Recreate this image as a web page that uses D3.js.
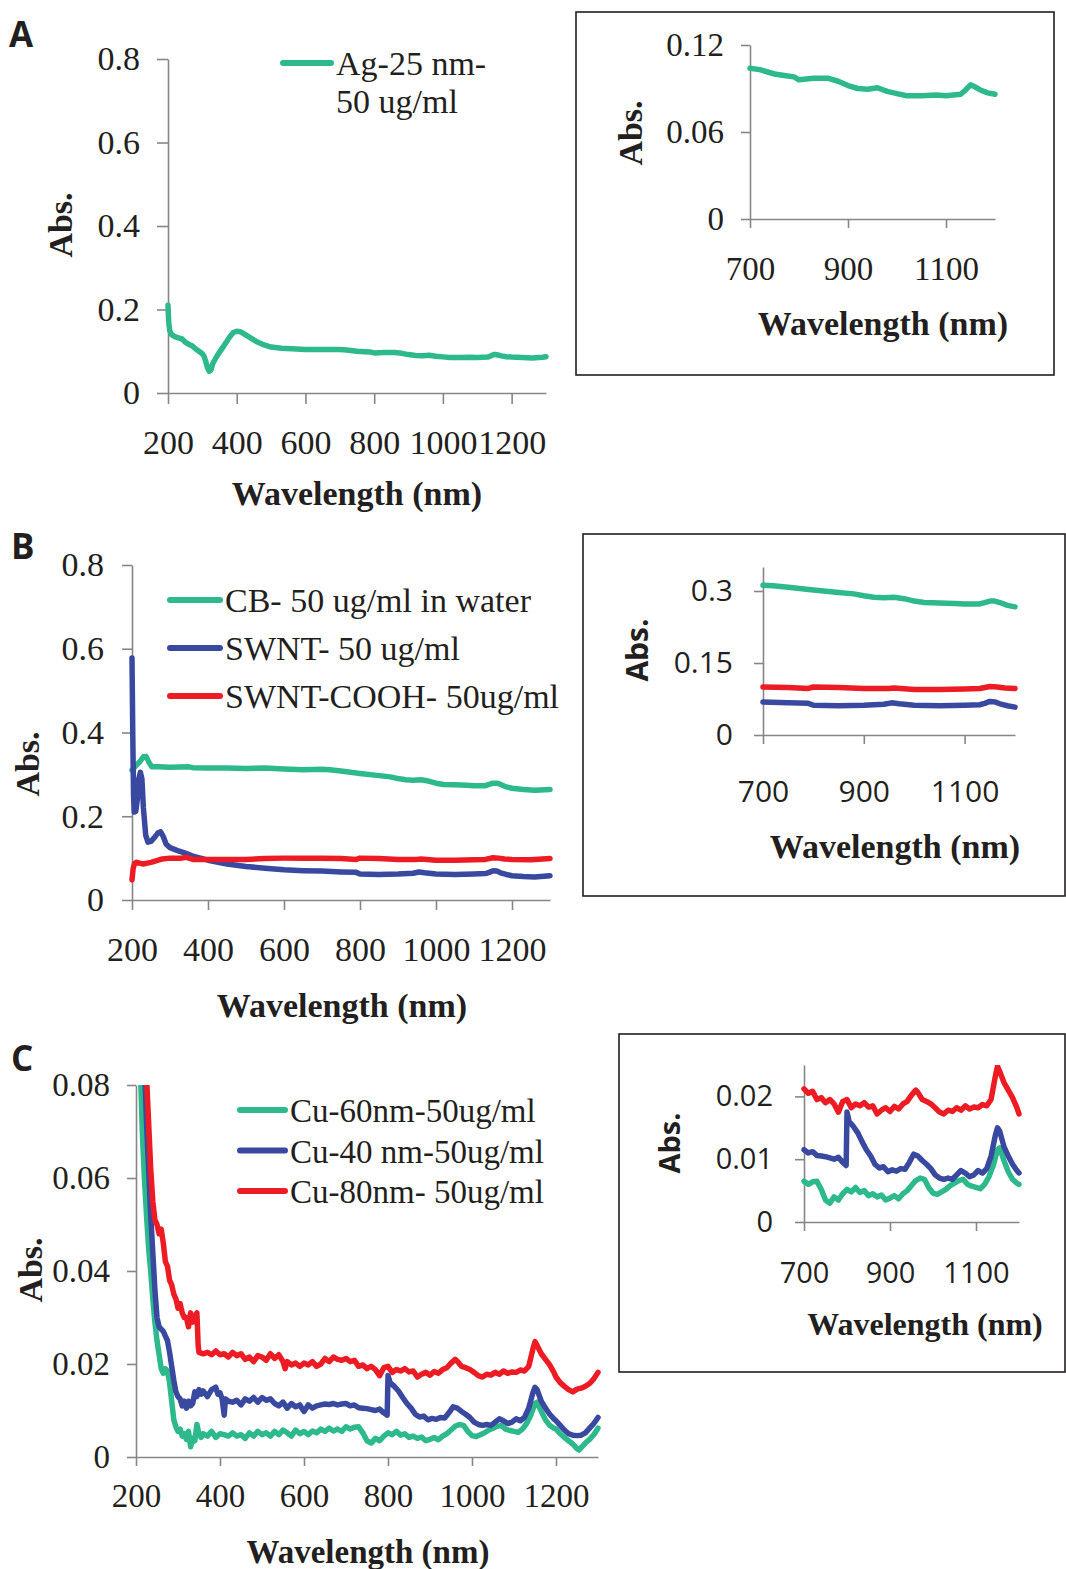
<!DOCTYPE html>
<html>
<head>
<meta charset="utf-8">
<script src="https://cdn.jsdelivr.net/npm/d3@7"></script>
<style>
  body { margin: 0; background: #fff; }
  svg { display: block; }
</style>
</head>
<body>
<svg id="chart" width="1066" height="1569"></svg>
<script>
// ---- data: [wavelength nm, absorbance] ----
var agAbs = [[200,0.21],[202,0.17],[205,0.15],[210,0.14],[220,0.135],[230,0.132],[240,0.13],[250,0.122],[260,0.117],[270,0.113],[280,0.106],[290,0.1],[300,0.094],[305,0.088],[310,0.075],[315,0.06],[320,0.052],[325,0.055],[330,0.07],[340,0.085],[350,0.098],[360,0.11],[370,0.122],[380,0.135],[390,0.145],[400,0.148],[410,0.147],[420,0.142],[440,0.132],[460,0.122],[480,0.115],[500,0.11],[530,0.107],[560,0.106],[600,0.104],[650,0.104],[700,0.104],[720,0.103],[750,0.1],[770,0.099],[790,0.098],[800,0.096],[830,0.097],[860,0.097],[880,0.095],[900,0.092],[920,0.09],[940,0.0895],[960,0.0905],[980,0.088],[1000,0.0865],[1020,0.085],[1050,0.085],[1080,0.0855],[1100,0.085],[1130,0.086],[1140,0.089],[1150,0.0925],[1160,0.091],[1170,0.089],[1185,0.087],[1200,0.086],[1230,0.085],[1260,0.084],[1290,0.0855],[1300,0.087]]

var cbAbs = [[200,0.31],[205,0.315],[210,0.32],[220,0.33],[230,0.342],[237,0.343],[245,0.328],[252,0.318],[270,0.318],[300,0.317],[350,0.318],[360,0.316],[400,0.315],[450,0.315],[500,0.314],[550,0.315],[600,0.313],[650,0.311],[700,0.312],[720,0.311],[750,0.308],[800,0.302],[850,0.297],[880,0.294],[900,0.29],[920,0.287],[940,0.286],[960,0.287],[980,0.284],[1000,0.279],[1020,0.276],[1050,0.275],[1080,0.274],[1100,0.273],[1130,0.273],[1140,0.276],[1150,0.279],[1160,0.279],[1170,0.276],[1185,0.27],[1200,0.267],[1230,0.264],[1260,0.262],[1300,0.264]]

var swntAbs = [[200,0.578],[202,0.4],[204,0.25],[206,0.21],[210,0.212],[214,0.24],[218,0.29],[222,0.305],[226,0.29],[230,0.22],[236,0.155],[242,0.138],[250,0.14],[260,0.15],[268,0.16],[275,0.163],[282,0.152],[290,0.133],[300,0.125],[320,0.118],[340,0.112],[360,0.105],[380,0.1],[400,0.095],[450,0.086],[500,0.08],[550,0.076],[600,0.072],[650,0.07],[700,0.069],[750,0.067],[790,0.066],[800,0.062],[850,0.061],[900,0.062],[940,0.064],[955,0.067],[970,0.065],[1000,0.062],[1050,0.061],[1100,0.062],[1130,0.063],[1140,0.066],[1150,0.07],[1160,0.069],[1170,0.065],[1185,0.061],[1200,0.058],[1230,0.056],[1260,0.055],[1300,0.058]]

var swntCoohAbs = [[200,0.048],[203,0.075],[207,0.088],[212,0.09],[220,0.088],[230,0.086],[240,0.088],[250,0.09],[265,0.094],[280,0.098],[300,0.1],[330,0.1],[345,0.102],[350,0.1],[360,0.097],[400,0.097],[450,0.097],[500,0.097],[550,0.099],[600,0.1],[650,0.1],[700,0.1],[750,0.099],[790,0.097],[800,0.1],[850,0.099],[900,0.097],[950,0.097],[960,0.098],[1000,0.095],[1050,0.095],[1100,0.096],[1130,0.097],[1150,0.101],[1165,0.1],[1180,0.098],[1200,0.097],[1250,0.096],[1300,0.099]]

var cu60Abs = [[200,0.13],[205,0.105],[210,0.085],[215,0.07],[220,0.06],[225,0.052],[230,0.045],[235,0.04],[240,0.034],[245,0.029],[250,0.025],[255,0.022],[260,0.019],[265,0.018],[270,0.019],[275,0.0185],[280,0.016],[285,0.012],[290,0.008],[295,0.0065],[300,0.0055],[305,0.006],[310,0.0045],[315,0.005],[320,0.0038],[325,0.0055],[330,0.0022],[335,0.004],[340,0.0035],[345,0.007],[350,0.005],[355,0.0042],[360,0.005],[370,0.0045],[380,0.0055],[390,0.0042],[400,0.005],[410,0.0048],[420,0.0045],[430,0.0052],[440,0.0045],[450,0.0048],[460,0.004],[470,0.0052],[480,0.0045],[490,0.0055],[500,0.0048],[510,0.0052],[520,0.0045],[530,0.0055],[540,0.0048],[550,0.0058],[560,0.0052],[570,0.0045],[580,0.0058],[590,0.005],[600,0.0055],[610,0.0048],[620,0.0056],[630,0.0052],[640,0.006],[650,0.0055],[660,0.0062],[670,0.0056],[680,0.006],[690,0.0055],[700,0.0065],[710,0.006],[720,0.0064],[730,0.0065],[740,0.0052],[750,0.0035],[760,0.003],[770,0.004],[780,0.0035],[790,0.0045],[800,0.0052],[810,0.0048],[820,0.0055],[830,0.0047],[840,0.005],[850,0.0042],[860,0.0045],[870,0.004],[880,0.0043],[890,0.0035],[900,0.0038],[910,0.0042],[920,0.0037],[930,0.0045],[940,0.005],[950,0.0058],[960,0.0066],[970,0.007],[980,0.0068],[990,0.0055],[1000,0.0046],[1010,0.0044],[1020,0.0048],[1030,0.0052],[1040,0.0058],[1050,0.0062],[1060,0.0066],[1070,0.0068],[1080,0.006],[1090,0.0057],[1100,0.0055],[1110,0.0053],[1120,0.006],[1130,0.0072],[1140,0.009],[1150,0.0115],[1155,0.0118],[1165,0.0098],[1175,0.008],[1185,0.0068],[1195,0.0062],[1200,0.006],[1210,0.005],[1220,0.0042],[1230,0.0035],[1240,0.0028],[1250,0.0018],[1255,0.0015],[1260,0.002],[1270,0.003],[1280,0.0038],[1290,0.0048],[1300,0.0062]]

var cu40Abs = [[200,0.16],[210,0.12],[215,0.1],[220,0.085],[225,0.072],[230,0.062],[235,0.052],[240,0.044],[245,0.036],[250,0.03],[255,0.028],[260,0.0275],[265,0.027],[270,0.026],[275,0.025],[280,0.0225],[285,0.0195],[290,0.0165],[295,0.014],[300,0.013],[305,0.0125],[310,0.011],[315,0.012],[320,0.0105],[325,0.012],[330,0.011],[335,0.0115],[340,0.014],[345,0.013],[350,0.0145],[355,0.0135],[360,0.0142],[370,0.013],[380,0.0145],[390,0.015],[395,0.0135],[400,0.0138],[405,0.0125],[410,0.009],[413,0.0125],[420,0.012],[430,0.0118],[440,0.0122],[450,0.0112],[460,0.0125],[470,0.012],[480,0.0128],[490,0.0118],[500,0.0128],[510,0.0122],[520,0.0125],[530,0.0115],[540,0.011],[550,0.0118],[560,0.0105],[570,0.0115],[580,0.0108],[590,0.0112],[600,0.0098],[610,0.0112],[620,0.0105],[630,0.011],[640,0.0112],[650,0.0114],[660,0.0113],[670,0.0115],[680,0.0112],[690,0.0114],[700,0.0115],[710,0.011],[720,0.0112],[730,0.0106],[740,0.0105],[750,0.0104],[760,0.0102],[770,0.01],[780,0.0103],[790,0.0095],[798,0.009],[800,0.0175],[805,0.016],[815,0.0152],[825,0.0142],[835,0.0128],[845,0.0115],[855,0.0105],[865,0.0092],[875,0.0086],[885,0.0088],[895,0.008],[905,0.0083],[915,0.0081],[925,0.0085],[935,0.0084],[945,0.0095],[955,0.0108],[965,0.0105],[975,0.0098],[985,0.0092],[995,0.0085],[1005,0.0075],[1015,0.007],[1025,0.0068],[1035,0.007],[1045,0.0068],[1055,0.0075],[1065,0.0082],[1075,0.0078],[1085,0.0072],[1095,0.0075],[1105,0.0082],[1115,0.0078],[1125,0.0085],[1135,0.0105],[1145,0.0138],[1150,0.015],[1155,0.0145],[1165,0.012],[1175,0.0105],[1185,0.0092],[1195,0.0082],[1200,0.0078],[1210,0.0068],[1220,0.0058],[1230,0.005],[1240,0.0047],[1250,0.0046],[1260,0.0047],[1270,0.0052],[1280,0.0062],[1290,0.0072],[1300,0.0085]]

var cu80Abs = [[200,0.2],[210,0.14],[220,0.1],[225,0.082],[230,0.072],[235,0.062],[240,0.055],[245,0.051],[250,0.05],[255,0.048],[260,0.049],[265,0.046],[270,0.042],[275,0.041],[280,0.038],[285,0.037],[290,0.035],[295,0.034],[300,0.032],[305,0.033],[310,0.031],[315,0.03],[320,0.03],[325,0.028],[330,0.031],[335,0.029],[340,0.03],[345,0.031],[348,0.024],[350,0.0225],[360,0.0222],[370,0.0225],[380,0.022],[390,0.0228],[400,0.022],[410,0.0222],[420,0.0215],[430,0.0225],[440,0.0218],[450,0.0222],[460,0.021],[470,0.0215],[480,0.0205],[490,0.0218],[500,0.0215],[510,0.0208],[520,0.0222],[530,0.0212],[540,0.022],[550,0.0205],[555,0.019],[560,0.0205],[570,0.0198],[580,0.0202],[590,0.0195],[600,0.0202],[610,0.0198],[620,0.0205],[630,0.0195],[640,0.02],[650,0.0212],[660,0.0205],[670,0.0215],[680,0.021],[690,0.0208],[700,0.0212],[710,0.0205],[720,0.0208],[730,0.0195],[740,0.0198],[750,0.019],[760,0.0195],[770,0.0188],[780,0.0175],[790,0.0192],[800,0.0195],[810,0.0182],[820,0.0188],[830,0.0185],[840,0.019],[850,0.0183],[860,0.0185],[870,0.0172],[880,0.0178],[890,0.0182],[900,0.0176],[910,0.0184],[920,0.018],[930,0.0188],[940,0.0192],[950,0.0202],[960,0.021],[965,0.0206],[975,0.0195],[985,0.0192],[995,0.0188],[1005,0.0182],[1015,0.0175],[1025,0.0172],[1035,0.0178],[1045,0.0176],[1055,0.0182],[1065,0.0178],[1075,0.0185],[1085,0.018],[1095,0.0183],[1105,0.0182],[1115,0.0187],[1125,0.0185],[1135,0.0195],[1145,0.0232],[1150,0.0248],[1155,0.024],[1165,0.0222],[1175,0.021],[1185,0.0198],[1195,0.0182],[1200,0.0172],[1210,0.016],[1220,0.0152],[1230,0.0145],[1240,0.014],[1250,0.0146],[1260,0.0148],[1270,0.0152],[1280,0.0158],[1290,0.0168],[1300,0.0182]]

// ticks
var mainXTicks = [200, 400, 600, 800, 1000, 1200]
var insetXTicks = [700, 900, 1100]
var yTicksA = [0, 0.2, 0.4, 0.6, 0.8]
var yTicksAInset = [0, 0.06, 0.12]
var yTicksB = [0, 0.2, 0.4, 0.6, 0.8]
var yTicksBInset = [0, 0.15, 0.3]
var yTicksC = [0, 0.02, 0.04, 0.06, 0.08]
var yTicksCInset = [0, 0.01, 0.02]

// legend labels
var legendA = ["Ag-25 nm-", "50 ug/ml"]
var legendB = ["CB- 50 ug/ml in water", "SWNT- 50 ug/ml", "SWNT-COOH- 50ug/ml"]
var legendC = ["Cu-60nm-50ug/ml", "Cu-40 nm-50ug/ml", "Cu-80nm- 50ug/ml"]

var green = "#2db98c"
var blue = "#3a49a0"
var red = "#ed1c24"
var ink = "#231f20"
var axisGrey = "#868686"
var serif = "'Liberation Serif', 'Times New Roman', serif"
var sans = "'Open Sans', 'Liberation Sans', sans-serif"

var svg = d3.select("#chart")

function inRange(data, lo, hi) {
  return data.filter(function (d) { return d[0] >= lo && d[0] <= hi })
}

function drawPanel(p) {
  var x = d3.scaleLinear().domain(p.xDomain).range([p.left, p.right])
  var y = d3.scaleLinear().domain(p.yDomain).range([p.bottom, p.top])
  var g = svg.append("g")

  if (p.box) {
    g.append("rect")
      .attr("x", p.box[0]).attr("y", p.box[1])
      .attr("width", p.box[2] - p.box[0]).attr("height", p.box[3] - p.box[1])
      .attr("fill", "none").attr("stroke", ink).attr("stroke-width", 1.6)
  }

  var yAxis = d3.axisLeft(y).tickValues(p.yTicks).tickSize(p.tick).tickSizeOuter(0)
    .tickPadding(p.yPad).tickFormat(function (d) { return String(d) })
  var xAxis = d3.axisBottom(x).tickValues(p.xTicks).tickSize(p.tick).tickSizeOuter(0)
    .tickPadding(p.xPad).tickFormat(function (d) { return String(d) })

  var ya = g.append("g").attr("transform", "translate(" + p.left + ",0)").call(yAxis)
  var xa = g.append("g").attr("transform", "translate(0," + p.bottom + ")").call(xAxis)

  ;[ya, xa].forEach(function (a) {
    a.select(".domain").attr("stroke", axisGrey).attr("stroke-width", 1.6)
    a.selectAll(".tick line").attr("stroke", axisGrey).attr("stroke-width", 1.6)
    a.selectAll(".tick text")
      .attr("fill", ink)
      .style("font-family", p.tickFamily)
      .style("font-size", p.tickSize + "px")
  })

  var clipId = "clip" + p.id
  svg.append("clipPath").attr("id", clipId)
    .append("rect")
    .attr("x", p.left - 3).attr("y", p.top)
    .attr("width", p.right - p.left + 6).attr("height", p.bottom - p.top + 6)

  var line = d3.line()
    .x(function (d) { return x(d[0]) })
    .y(function (d) { return y(d[1]) })

  var lines = g.append("g").attr("clip-path", "url(#" + clipId + ")")
  p.series.forEach(function (s) {
    lines.append("path")
      .datum(inRange(s.data, p.xDomain[0], p.xDomain[1]))
      .attr("d", line)
      .attr("fill", "none")
      .attr("stroke", s.color)
      .attr("stroke-width", p.lineWidth)
      .attr("stroke-linejoin", "round")
      .attr("stroke-linecap", "round")
  })

  g.append("text")
    .attr("x", p.xTitle[0]).attr("y", p.xTitle[1])
    .attr("text-anchor", "middle")
    .attr("fill", ink)
    .style("font-family", serif).style("font-weight", "bold")
    .style("font-size", p.xTitle[2] + "px")
    .text("Wavelength (nm)")

  g.append("text")
    .attr("transform", "translate(" + p.yTitle[0] + "," + p.yTitle[1] + ") rotate(-90)")
    .attr("text-anchor", "middle")
    .attr("fill", ink)
    .style("font-family", p.yTitle[3]).style("font-weight", "bold")
    .style("font-size", p.yTitle[2] + "px")
    .text("Abs.")

  if (p.legend) {
    var L = p.legend
    L.labels.forEach(function (lab, i) {
      var ly = L.y + i * L.step
      if (L.colors[i]) {
        g.append("line")
          .attr("x1", L.x1).attr("x2", L.x2).attr("y1", ly).attr("y2", ly)
          .attr("stroke", L.colors[i]).attr("stroke-width", 6)
          .attr("stroke-linecap", "round")
      }
      g.append("text")
        .attr("x", L.x2 + 5).attr("y", ly + 12)
        .attr("fill", ink)
        .style("font-family", serif).style("font-size", L.size + "px")
        .text(lab)
    })
  }

  if (p.letter) {
    g.append("text")
      .attr("x", p.letter[1]).attr("y", p.letter[2])
      .attr("fill", ink)
      .style("font-family", sans).style("font-weight", "bold")
      .style("font-size", "35px")
      .text(p.letter[0])
  }
}

// ---- panel A ----
drawPanel({
  id: "A", letter: ["A", 9, 47],
  xDomain: [200, 1300], yDomain: [0, 0.8],
  left: 168, right: 546, top: 59, bottom: 393,
  xTicks: mainXTicks, yTicks: yTicksA,
  tick: 11, yPad: 17, xPad: 26, tickFamily: serif, tickSize: 34,
  lineWidth: 5.5,
  xTitle: [357, 505, 34], yTitle: [72, 225, 34, serif],
  series: [{ data: agAbs, color: green }],
  legend: { x1: 283, x2: 331, y: 63, step: 38, size: 34, labels: legendA, colors: [green, null] }
})

drawPanel({
  id: "Ai", box: [576, 12, 1054, 375],
  xDomain: [700, 1200], yDomain: [0, 0.12],
  left: 750, right: 995, top: 45, bottom: 219,
  xTicks: insetXTicks, yTicks: yTicksAInset,
  tick: 9, yPad: 17, xPad: 29, tickFamily: serif, tickSize: 33,
  lineWidth: 5.5,
  xTitle: [883, 335, 34], yTitle: [642, 133, 34, serif],
  series: [{ data: agAbs, color: green }]
})

// ---- panel B ----
drawPanel({
  id: "B", letter: ["B", 11, 559],
  xDomain: [200, 1300], yDomain: [0, 0.8],
  left: 132, right: 550, top: 565, bottom: 900,
  xTicks: mainXTicks, yTicks: yTicksB,
  tick: 10, yPad: 18, xPad: 27, tickFamily: serif, tickSize: 34,
  lineWidth: 5.5,
  xTitle: [342, 1017, 34], yTitle: [39, 764, 34, serif],
  series: [{ data: cbAbs, color: green }, { data: swntAbs, color: blue }, { data: swntCoohAbs, color: red }],
  legend: { x1: 170, x2: 220, y: 600, step: 48, size: 34, labels: legendB, colors: [green, blue, red] }
})

drawPanel({
  id: "Bi", box: [583, 534, 1065, 896],
  xDomain: [700, 1200], yDomain: [0, 0.35],
  left: 763, right: 1015, top: 567, bottom: 735,
  xTicks: insetXTicks, yTicks: yTicksBInset,
  tick: 9, yPad: 21, xPad: 37, tickFamily: sans, tickSize: 30,
  lineWidth: 5.5,
  xTitle: [895, 858, 34], yTitle: [648, 650, 30, sans],
  series: [{ data: cbAbs, color: green }, { data: swntAbs, color: blue }, { data: swntCoohAbs, color: red }]
})

// ---- panel C ----
drawPanel({
  id: "C", letter: ["C", 11, 1071],
  xDomain: [200, 1300], yDomain: [0, 0.08],
  left: 136, right: 598, top: 1085, bottom: 1457,
  xTicks: mainXTicks, yTicks: yTicksC,
  tick: 9, yPad: 17, xPad: 18, tickFamily: serif, tickSize: 33,
  lineWidth: 5.5,
  xTitle: [368, 1563, 33], yTitle: [42, 1270, 34, serif],
  series: [{ data: cu60Abs, color: green }, { data: cu40Abs, color: blue }, { data: cu80Abs, color: red }],
  legend: { x1: 240, x2: 285, y: 1110, step: 40.5, size: 33, labels: legendC, colors: [green, blue, red] }
})

drawPanel({
  id: "Ci", box: [619, 1034, 1065, 1372],
  xDomain: [700, 1200], yDomain: [0, 0.025],
  left: 804, right: 1019, top: 1065, bottom: 1222,
  xTicks: insetXTicks, yTicks: yTicksCInset,
  tick: 9, yPad: 22, xPad: 31, tickFamily: sans, tickSize: 29,
  lineWidth: 5.5,
  xTitle: [925, 1335, 32], yTitle: [680, 1143, 29, sans],
  series: [{ data: cu60Abs, color: green }, { data: cu40Abs, color: blue }, { data: cu80Abs, color: red }]
})
</script>
</body>
</html>
